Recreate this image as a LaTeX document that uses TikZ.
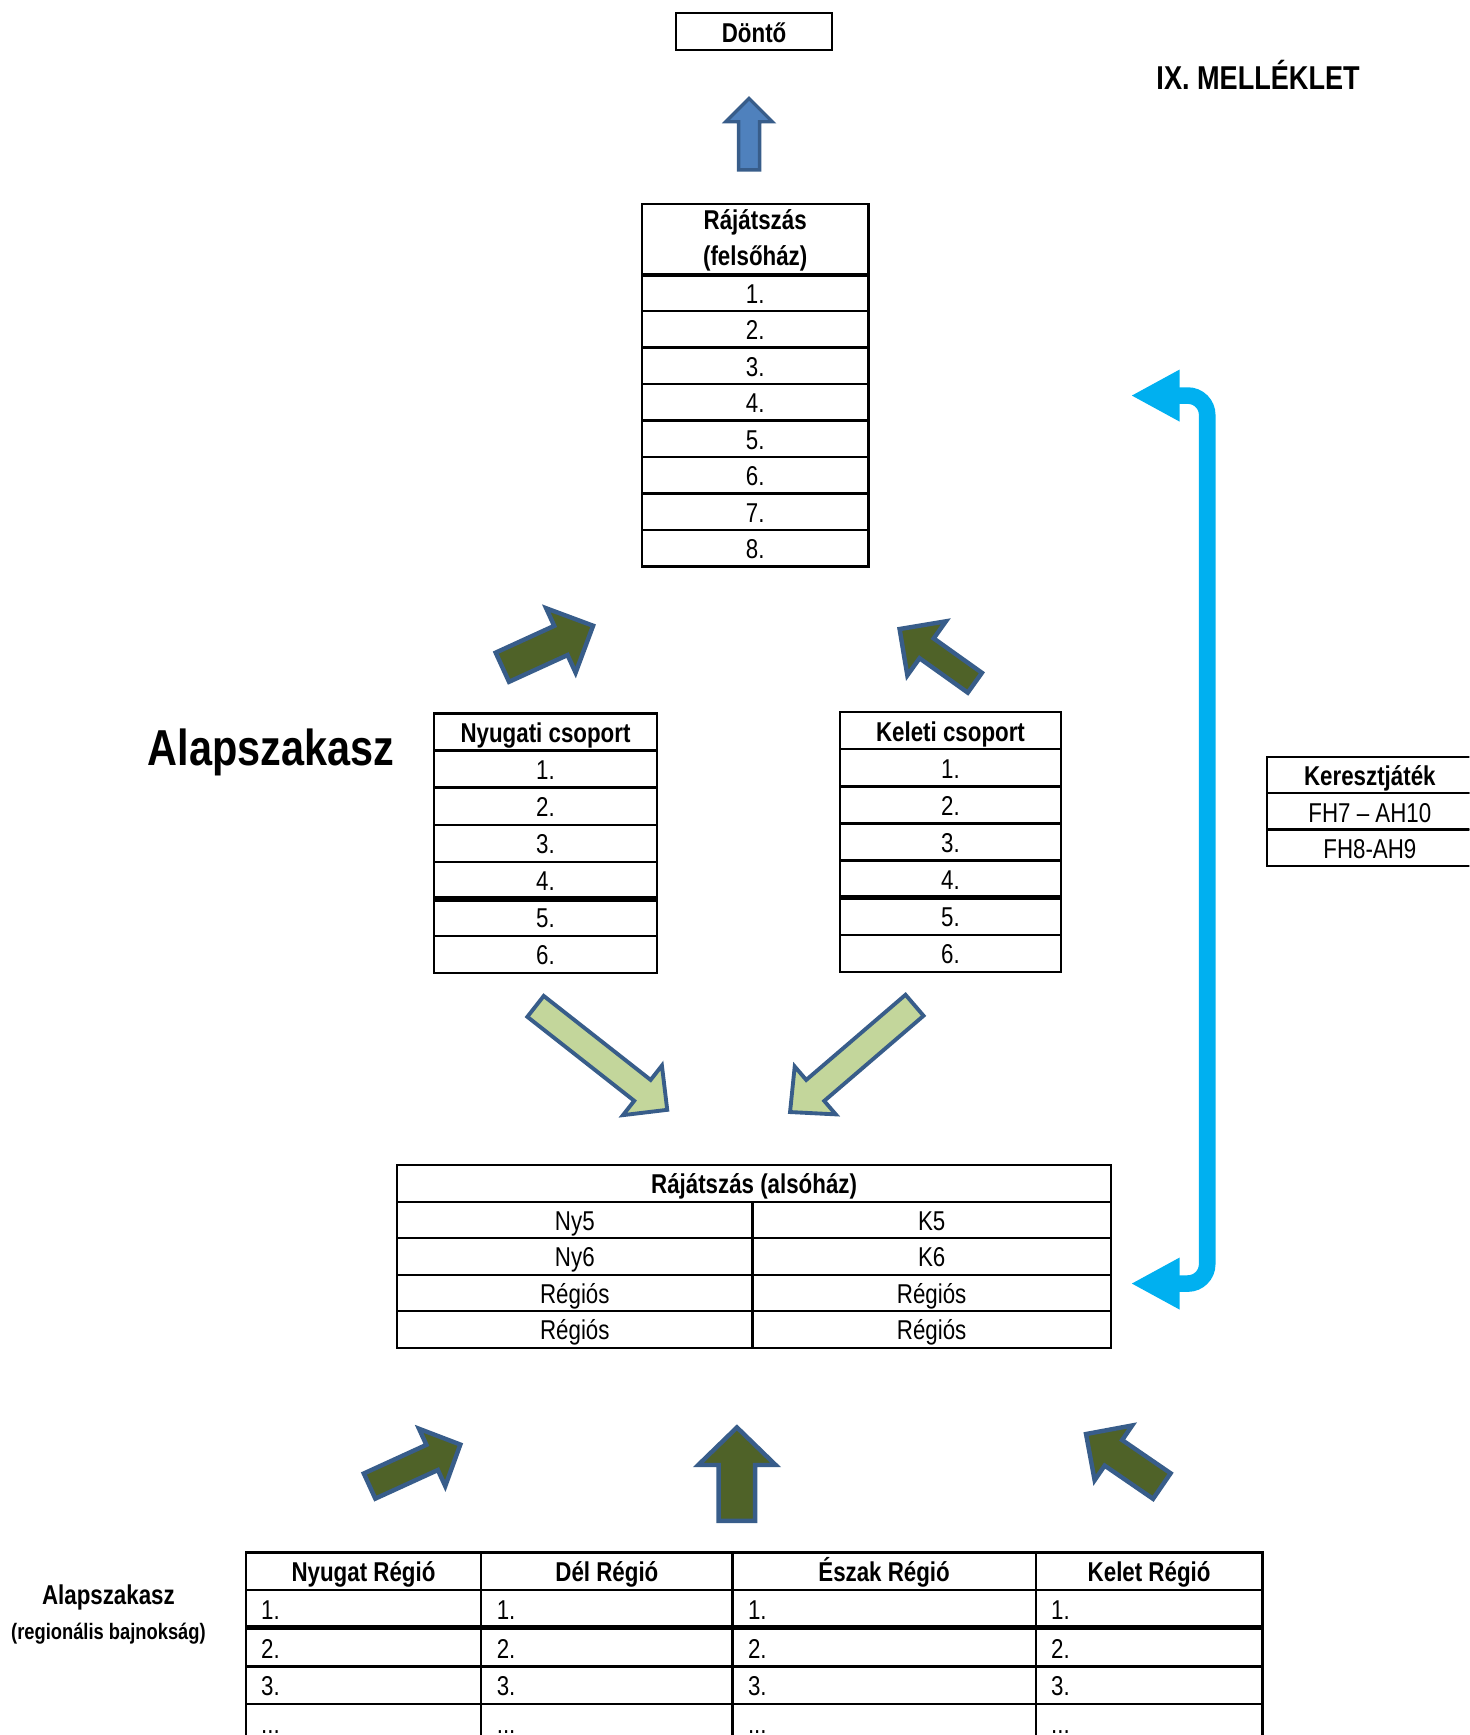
\documentclass[tikz,border=0pt]{standalone}
\usepackage{fontspec}
\setmainfont{Liberation Sans}[FakeStretch=0.82]
\usetikzlibrary{calc,arrows.meta}
\definecolor{arrowfill}{HTML}{4F6228}
\definecolor{arrowpale}{HTML}{C3D69B}
\definecolor{arrowedge}{HTML}{385D8A}
\definecolor{finalblue}{HTML}{4F81BD}
\definecolor{crossblue}{HTML}{00B0F0}
\newcommand{\tabfont}{\fontsize{14}{17}\selectfont}
\newcommand{\etc}{...}
\tikzset{
	tcell/.style={draw, line width=0.04cm, inner sep=0pt, outer sep=0pt, minimum height=0.66cm,
		text height=0.45cm, text depth=0.07cm, font=\tabfont},
	headcell/.style={tcell, font=\tabfont\bfseries},
	tallhead/.style={draw, line width=0.04cm, inner sep=0pt, outer sep=0pt, align=center,
		font=\fontsize{14}{18.5}\selectfont\bfseries},
	thickrule/.style={line width=0.1cm},
	darrow/.style={fill=arrowfill, draw=arrowedge, line width=0.08cm},
	larrow/.style={fill=arrowpale, draw=arrowedge, line width=0.07cm},
	barrow/.style={fill=finalblue, draw=arrowedge, line width=0.06cm},
	crossarrow/.style={draw=crossblue, line width=0.3cm, rounded corners=0.35cm,
		{Triangle[length=0.88cm,width=0.87cm]}-{Triangle[length=0.88cm,width=0.87cm]}}
}
% tail, tip, shaft half width, head half width, head length
\newcommand{\blockarrow}[6]{
	\coordinate (hb) at ($(#3)!#6!(#2)$);
	\draw[#1] ($(#2)!#4!90:(#3)$) -- ($(hb)!#4!-90:(#2)$) -- ($(hb)!#5!-90:(#2)$) -- (#3)
		-- ($(hb)!#5!90:(#2)$) -- ($(hb)!#4!90:(#2)$) -- ($(#2)!#4!-90:(#3)$) -- cycle;}

\begin{document}
\begin{tikzpicture}[x=0.02cm, y=-0.02cm]
					\useasboundingbox (0,0) rectangle (1328,1568);
					\clip (0,0) rectangle (1328,1568);
					%\draw[help lines, step=50] (0,0) grid (1328,1568);
					%TOP
					\node[headcell, minimum width=2.82cm] (donto) at (681.5,28.5) {Döntő};
					\node[anchor=base, font=\fontsize{17}{20}\selectfont\bfseries] (mell) at (1137,81) {IX. MELLÉKLET};
					\coordinate (fin-tail) at (677,153.5);
					\coordinate (fin-tip) at (677,89);
					\blockarrow{barrow}{fin-tail}{fin-tip}{0.19cm}{0.42cm}{0.42cm}
					%FELSOHAZ
					\node[tallhead, minimum width=4.1cm, minimum height=1.3cm] (fh) at (682.5,217) {Rájátszás\\(felsőház)};
					\foreach \i in {1,...,8}
						\node[tcell, minimum width=4.1cm] (fh\i) at (682.5,{231.5+33*\i}) {\i.};
					\coordinate (ny-tail) at (454,603);
					\coordinate (ny-tip) at (536,565.5);
					\blockarrow{darrow}{ny-tail}{ny-tip}{0.29cm}{0.64cm}{0.64cm}
					\coordinate (k-tail) at (881,617);
					\coordinate (k-tip) at (813,568.5);
					\blockarrow{darrow}{k-tail}{k-tip}{0.22cm}{0.6cm}{0.6cm}
					%GROUPS
					\node[anchor=base, font=\fontsize{26}{30}\selectfont\bfseries] (alap) at (245,692) {Alapszakasz};
					\node[headcell, minimum width=4.04cm, minimum height=0.67cm] (nyc) at (493,661.5) {Nyugati csoport};
					\foreach \i in {1,...,6}
						\node[tcell, minimum width=4.04cm, minimum height=0.67cm] (nyc\i) at (493,{661.5+33.5*\i}) {\i.};
					\draw[thickrule] (nyc4.south west) -- (nyc4.south east);
					\node[headcell, minimum width=4cm, minimum height=0.67cm] (kc) at (859,660.5) {Keleti csoport};
					\foreach \i in {1,...,6}
						\node[tcell, minimum width=4cm, minimum height=0.67cm] (kc\i) at (859,{660.5+33.5*\i}) {\i.};
					\draw[thickrule] (kc4.south west) -- (kc4.south east);
					%CROSS
					\node[headcell, minimum width=3.72cm] (kj) at (1238,700.5) {Keresztjáték};
					\node[tcell, minimum width=3.72cm] (kj1) at (1238,733.5) {FH7 – AH10};
					\node[tcell, minimum width=3.72cm] (kj2) at (1238,766) {FH8-AH9};
					\coordinate (cr-top) at (1022,357.5);
					\coordinate (cr-bot) at (1022,1160);
					\draw[crossarrow] (cr-top) -- (1091,357.5) -- (1091,1160) -- (cr-bot);
					%ALSOHAZ
					\coordinate (lw-tail) at (484,909.5);
					\coordinate (lw-tip) at (603,1003);
					\blockarrow{larrow}{lw-tail}{lw-tip}{0.24cm}{0.57cm}{0.57cm}
					\coordinate (le-tail) at (826.5,908.5);
					\coordinate (le-tip) at (714,1005);
					\blockarrow{larrow}{le-tail}{le-tip}{0.25cm}{0.57cm}{0.6cm}
					\node[headcell, minimum width=12.9cm] (ah) at (681.5,1069.5) {Rájátszás (alsóház)};
					\foreach \l/\r [count=\i] in {Ny5/K5, Ny6/K6, Régiós/Régiós, Régiós/Régiós} {
						\node[tcell, minimum width=6.42cm] (ahl\i) at (519.5,{1069.5+33*\i}) {\l};
						\node[tcell, minimum width=6.48cm] (ahr\i) at (842,{1069.5+33*\i}) {\r};
					}
					%REGIONS
					\coordinate (rw-tail) at (334,1343);
					\coordinate (rw-tip) at (416,1305.5);
					\blockarrow{darrow}{rw-tail}{rw-tip}{0.25cm}{0.57cm}{0.56cm}
					\coordinate (rm-tail) at (666,1374.5);
					\coordinate (rm-tip) at (666,1290);
					\blockarrow{darrow}{rm-tail}{rm-tip}{0.33cm}{0.7cm}{0.68cm}
					\coordinate (re-tail) at (1050,1343);
					\coordinate (re-tip) at (981.5,1296);
					\blockarrow{darrow}{re-tail}{re-tip}{0.28cm}{0.6cm}{0.6cm}
					\node[anchor=base, font=\tabfont\bfseries] (alap2) at (98,1450) {Alapszakasz};
					\node[anchor=base, font=\fontsize{11.5}{14}\selectfont\bfseries] (reg) at (98,1482) {(regionális bajnokság)};
					\foreach \x/\w/\n/\lab in {222/213/nr/Nyugat Régió, 435/227/dr/Dél Régió, 662/274/er/Észak Régió, 936/205/kr/Kelet Régió} {
						\pgfmathsetmacro\cw{\w*0.02}
						\pgfmathsetmacro\tw{\w*0.02-0.56}
						\node[headcell, minimum width=\cw cm, minimum height=0.68cm] (\n) at ({\x+\w/2},1420) {\lab};
						\foreach \r/\y [count=\k] in {1./1454, 2./1489, 3./1523, \etc/1557}
							\node[tcell, text width=\tw cm, inner xsep=0.28cm, align=left, minimum height=0.68cm,
								text height=0.38cm, text depth=0cm] (\n\k) at ({\x+\w/2},\y) {\r};
					}
					\draw[thickrule] (nr1.south west) -- (kr1.south east);
\end{tikzpicture}
\end{document}
